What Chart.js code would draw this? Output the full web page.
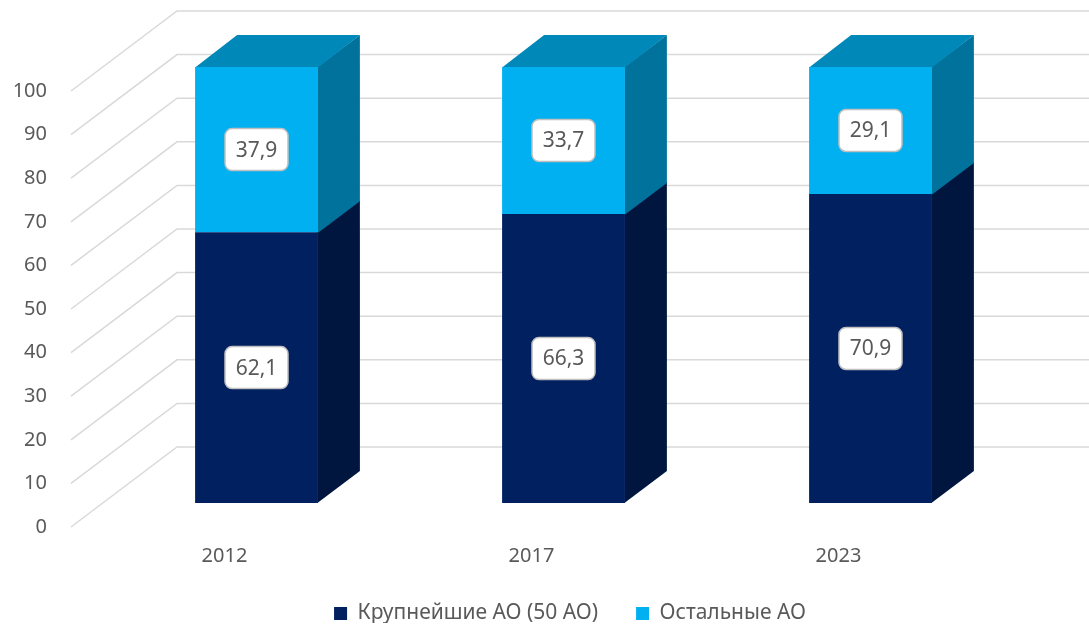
<!DOCTYPE html>
<html><head><meta charset="utf-8">
<script src="https://cdn.jsdelivr.net/npm/chart.js@4/dist/chart.umd.min.js"></script>
<style>html,body{margin:0;padding:0;background:#fff;overflow:hidden}#wrap{width:1089px;height:627px}</style>
</head><body><div id="wrap"><canvas id="c" width="1089" height="627"></canvas></div>
<script>
const categories = ['2012', '2017', '2023'];
const largestAO = [62.1, 66.3, 70.9];
const otherAO = [37.9, 33.7, 29.1];
const seriesNames = ['Крупнейшие АО (50 АО)', 'Остальные АО'];
const yTickValues = [0, 10, 20, 30, 40, 50, 60, 70, 80, 90, 100];

const FONT = 'Noto Sans';
const TXT = '#595959';
const frontColors = ['#002060', '#00B0F0'];
const sideColors = ['#00163F', '#00729C'];
const topColors = ['#001A50', '#0088B8'];

// 3D projection offsets
const WALL = {dx: 106, dy: -80};     // full depth of floor/wall
const FRONT = {dx: 32, dy: -24};     // bar front face depth
const BAR = {dx: 42, dy: -32};       // bar depth

function fmt(v){ return v.toFixed(1).replace('.', ','); }

const threeD = {
  id: 'threeD',
  afterLayout(chart){
    const lg = chart.legend;
    if (lg) { lg.top -= 4; lg.bottom -= 4; lg.left += 74; lg.right += 74; }
  },
  beforeDatasetsDraw(chart){
    const ctx = chart.ctx, ys = chart.scales.y, a = chart.chartArea;
    ctx.save();
    ctx.strokeStyle = '#D9D9D9';
    ctx.lineWidth = 1.5;
    yTickValues.forEach(v => {
      const y = ys.getPixelForValue(v);
      ctx.beginPath();
      ctx.moveTo(a.left, y);
      ctx.lineTo(a.left + WALL.dx, y + WALL.dy);
      ctx.lineTo(chart.width, y + WALL.dy);
      ctx.stroke();
    });
    ctx.restore();
    ctx.save();
    ctx.translate(FRONT.dx, FRONT.dy);
    const last = chart.data.datasets.length - 1;
    chart.data.datasets.forEach((ds, di) => {
      const meta = chart.getDatasetMeta(di);
      meta.data.forEach(bar => {
        const p = bar.getProps(['x', 'y', 'base', 'width'], true);
        const l = p.x - p.width / 2, r = p.x + p.width / 2;
        ctx.fillStyle = sideColors[di];
        ctx.beginPath();
        ctx.moveTo(r - 0.5, p.y); ctx.lineTo(r + BAR.dx, p.y + BAR.dy);
        ctx.lineTo(r + BAR.dx, p.base + BAR.dy + (di > 0 ? 1 : 0)); ctx.lineTo(r - 0.5, p.base + (di > 0 ? 1 : 0));
        ctx.closePath(); ctx.fill();
        if (di === last) {
          ctx.fillStyle = topColors[di];
          ctx.beginPath();
          ctx.moveTo(l, p.y + 0.5); ctx.lineTo(l + BAR.dx, p.y + BAR.dy);
          ctx.lineTo(r + BAR.dx, p.y + BAR.dy); ctx.lineTo(r, p.y + 0.5);
          ctx.closePath(); ctx.fill();
        }
      });
    });
  },
  afterDatasetsDraw(chart){
    const ctx = chart.ctx;
    chart.data.datasets.forEach((ds, di) => {
      const meta = chart.getDatasetMeta(di);
      meta.data.forEach((bar, i) => {
        const p = bar.getProps(['x', 'y', 'base'], true);
        const cx = p.x, cy = (p.y + p.base) / 2;
        const w = 63, h = 42;
        ctx.beginPath();
        ctx.roundRect(cx - w / 2, cy - h / 2, w, h, 7);
        ctx.fillStyle = '#FFFFFF';
        ctx.fill();
        ctx.lineWidth = 1.5;
        ctx.strokeStyle = '#BFBFBF';
        ctx.stroke();
        ctx.fillStyle = TXT;
        ctx.font = '21px "' + FONT + '"';
        ctx.textAlign = 'center';
        ctx.textBaseline = 'middle';
        ctx.fillText(fmt(ds.data[i]), cx, cy + 1);
      });
    });
    ctx.restore();
  }
};

new Chart(document.getElementById('c'), {
  type: 'bar',
  data: {
    labels: categories,
    datasets: [
      {label: seriesNames[0], data: largestAO, backgroundColor: frontColors[0], borderWidth: 0, clip: false},
      {label: seriesNames[1], data: otherAO, backgroundColor: frontColors[1], borderWidth: 0, clip: false}
    ]
  },
  options: {
    responsive: false,
    animation: false,
    devicePixelRatio: 1,
    barPercentage: 0.4,
    categoryPercentage: 1,
    layout: {padding: {top: 91, left: 0, right: 97, bottom: 0}},
    scales: {
      x: {
        stacked: true,
        grid: {display: false, drawTicks: false},
        border: {display: false},
        ticks: {color: TXT, font: {family: FONT, size: 20}, padding: 17},
        afterFit(s){ s.height = 42; }
      },
      y: {
        stacked: true,
        min: 0, max: 100,
        grid: {display: false, drawTicks: false},
        border: {display: false},
        ticks: {stepSize: 10, color: TXT, font: {family: FONT, size: 20}, padding: 24},
        afterFit(s){ s.width = 71; }
      }
    },
    plugins: {
      legend: {
        position: 'bottom',
        maxHeight: 58,
        labels: {color: TXT, font: {family: FONT, size: 21}, boxWidth: 13, boxHeight: 13, padding: 38}
      },
      tooltip: {enabled: false}
    }
  },
  plugins: [threeD]
});
</script>
</body></html>
